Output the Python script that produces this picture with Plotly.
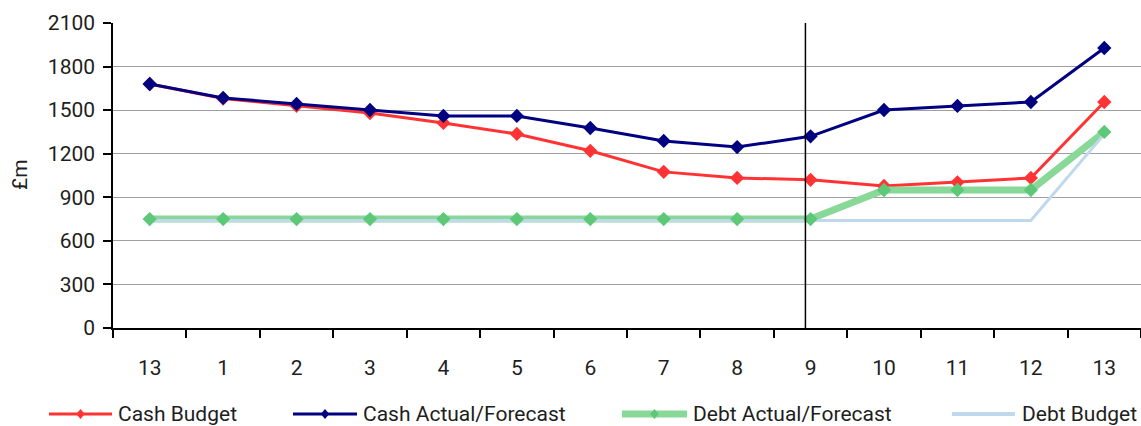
import plotly.graph_objects as go

# Period labels (financial periods, rolling from 13 of last year to 13 of this year)
periods = ["13", "1", "2", "3", "4", "5", "6", "7", "8", "9", "10", "11", "12", "13"]

cash_budget = [1680, 1580, 1530, 1480, 1412, 1336, 1220, 1075, 1033, 1020, 978, 1003, 1033, 1556]
cash_actual_forecast = [1680, 1584, 1543, 1501, 1460, 1460, 1377, 1288, 1246, 1320, 1501, 1529, 1556, 1928]
debt_actual_forecast = [750, 750, 750, 750, 750, 750, 750, 750, 750, 750, 950, 950, 950, 1350]
debt_budget = [740, 740, 740, 740, 740, 740, 740, 740, 740, 740, 740, 740, 740, 1335]

y_ticks = [0, 300, 600, 900, 1200, 1500, 1800, 2100]

# Position of the actual / forecast divider (just before period 9)
divider_x = 8.93

W, H = 1141, 426
ML, MR, MT, MB = 113, 0, 23, 98
PW, PH = W - ML - MR, H - MT - MB

RED = "#ff3333"
NAVY = "#000080"
GREEN_LINE = "#88d898"
GREEN_MARK = "#5cc878"
LIGHT_BLUE = "#c0d8ec"
FONT = "Roboto"
FS = 21
TXT = "#1e1e1e"

x = list(range(len(periods)))

fig = go.Figure()
fig.add_trace(go.Scatter(x=x, y=cash_budget, mode="lines+markers", name="Cash Budget",
                         line=dict(color=RED, width=3),
                         marker=dict(symbol="diamond", size=11, color=RED)))
fig.add_trace(go.Scatter(x=x, y=cash_actual_forecast, mode="lines+markers", name="Cash Actual/Forecast",
                         line=dict(color=NAVY, width=3),
                         marker=dict(symbol="diamond", size=11, color=NAVY)))
fig.add_trace(go.Scatter(x=x, y=debt_actual_forecast, mode="lines", name="Debt Actual/Forecast",
                         line=dict(color=GREEN_LINE, width=7)))
fig.add_trace(go.Scatter(x=x, y=debt_budget, mode="lines", name="Debt Budget",
                         line=dict(color=LIGHT_BLUE, width=3)))
fig.add_trace(go.Scatter(x=x, y=debt_actual_forecast, mode="markers", name="Debt Actual/Forecast",
                         marker=dict(symbol="diamond", size=11, color=GREEN_MARK)))

for tr in fig.data:
    tr.showlegend = False
    tr.hoverinfo = "skip"


def px_x(px):
    return (px - ML) / PW


def px_y(py):
    return (MT + PH - py) / PH


shapes = [
    dict(type="line", xref="x", yref="paper", x0=divider_x, x1=divider_x, y0=0, y1=1,
         line=dict(color="black", width=1.5)),
]
annotations = [
    dict(text="£m", xref="paper", yref="paper", x=px_x(20), y=px_y(175), textangle=-90,
         showarrow=False, font=dict(family=FONT, size=FS, color=TXT), xanchor="center", yanchor="middle"),
]

# Hand-built legend row beneath the axis
legend_y = 414
legend_items = [
    ("Cash Budget", RED, 3, RED, 49, 112, 118),
    ("Cash Actual/Forecast", NAVY, 3, NAVY, 293, 357, 363),
    ("Debt Actual/Forecast", GREEN_LINE, 7, GREEN_MARK, 622, 687, 693),
    ("Debt Budget", LIGHT_BLUE, 4, None, 952, 1015, 1022),
]
for label, lc, lw, mc, x0, x1, tx in legend_items:
    shapes.append(dict(type="line", xref="paper", yref="paper",
                       x0=px_x(x0), x1=px_x(x1), y0=px_y(legend_y), y1=px_y(legend_y),
                       line=dict(color=lc, width=lw)))
    if mc:
        cx = (x0 + x1) / 2
        d = 5
        path = "M {} {} L {} {} L {} {} L {} {} Z".format(
            px_x(cx), px_y(legend_y - d), px_x(cx + d * 0.85), px_y(legend_y),
            px_x(cx), px_y(legend_y + d), px_x(cx - d * 0.85), px_y(legend_y))
        shapes.append(dict(type="path", xref="paper", yref="paper", path=path,
                           fillcolor=mc, line=dict(color=mc, width=0)))
    annotations.append(dict(text=label, xref="paper", yref="paper", x=px_x(tx), y=px_y(legend_y),
                            xanchor="left", yanchor="middle", showarrow=False, xshift=-2,
                            font=dict(family=FONT, size=FS, color=TXT)))

fig.update_layout(
    width=W, height=H,
    margin=dict(l=ML, r=MR, t=MT, b=MB),
    paper_bgcolor="white", plot_bgcolor="white",
    font=dict(family=FONT, size=FS, color=TXT),
    showlegend=False,
    shapes=shapes,
    annotations=annotations,
    xaxis=dict(
        range=[-0.5, len(periods) - 0.5],
        tickvals=x, ticktext=periods,
        ticks="", showgrid=False, zeroline=False,
        showline=True, linecolor="black", linewidth=1.5,
        ticklabelstandoff=20,
        minor=dict(tickvals=[i - 0.5 for i in range(len(periods) + 1)], ticks="outside",
                   ticklen=8, tickcolor="black", tickwidth=1.5, showgrid=False),
        fixedrange=True,
    ),
    yaxis=dict(
        range=[0, 2100], tickvals=y_ticks,
        ticks="outside", ticklen=8, tickcolor="black", tickwidth=1.5,
        showgrid=True, gridcolor="#a0a0a0", gridwidth=1,
        zeroline=False, showline=True, linecolor="black", linewidth=1.5,
        ticklabelstandoff=4,
        fixedrange=True,
    ),
)

fig.write_html("out.html", config={"displayModeBar": False})
